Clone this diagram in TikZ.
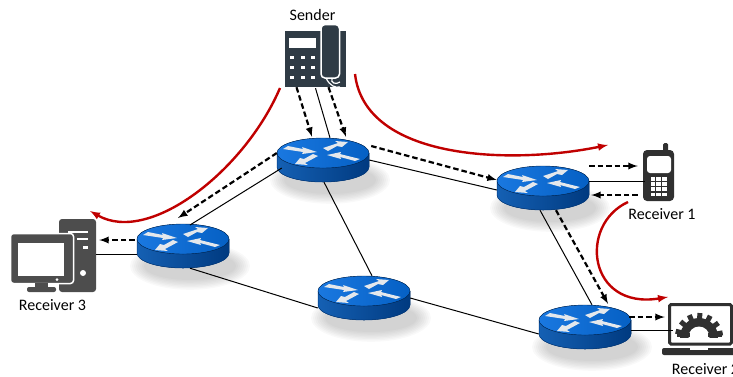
\documentclass[tikz,border=0pt]{standalone}
\usepackage{fontspec}
\setmainfont{Carlito}
\usetikzlibrary{calc}

\definecolor{phonedark}{HTML}{2F3B45}
\definecolor{pcgrey}{HTML}{4D4D4D}
\definecolor{mobiledark}{HTML}{303030}
\definecolor{redpath}{HTML}{C00000}
\definecolor{routerlight}{HTML}{1A78E0}
\definecolor{routermid}{HTML}{0560C4}
\definecolor{routerdark}{HTML}{003A80}
\definecolor{arrowwhite}{HTML}{E4E8EC}

\tikzset{
  >=latex,
  routerbody/.style={minimum width=92pt, minimum height=44pt, inner sep=0pt},
  iconbox/.style={inner sep=0pt},
  caption/.style={inner sep=0pt, font=\fontsize{16}{18}\selectfont},
  link/.style={draw=black, line width=1pt},
  flow/.style={draw=black, line width=2.2pt, dash pattern=on 5.5pt off 3pt, ->},
  redpath/.style={draw=redpath, line width=2.4pt, ->},
  router/.pic={
    % soft shadow
    \foreach \g in {0,2,...,14}
      \fill[black, opacity=0.025] (7,20) ellipse [x radius={46pt+\g*1pt}, y radius={14pt+\g*0.7pt}];
    % side, then top
    \fill[left color=routerlight!80!black, right color=routerdark]
      (-46,-7) -- (-46,7) arc [start angle=180, end angle=360, x radius=46pt, y radius=15pt] -- (46,-7) -- cycle;
    \draw[routerdark, line width=0.5pt]
      (-46,-7) -- (-46,7) arc [start angle=180, end angle=360, x radius=46pt, y radius=15pt] -- (46,-7);
    \fill[left color=routerlight, right color=routermid] (0,-7) ellipse [x radius=46pt, y radius=15pt];
    \draw[routerdark!70!black, line width=0.4pt] (0,-7) ellipse [x radius=46pt, y radius=15pt];
    \fill[arrowwhite] (-40,-11) -- (-35,-14) -- (-20,-11) -- (-21,-13) -- (-6,-8) -- (-21,-6) -- (-20,-8) -- cycle;
    \fill[arrowwhite] (0,-12) -- (5,-9) -- (14,-14) -- (19,-13) -- (25,-18) -- (12,-19) -- (15,-17) -- cycle;
    \fill[arrowwhite] (-5,-4) -- (-10,-6) -- (-19,-1) -- (-23,-2) -- (-28,4) -- (-15,5) -- (-18,3) -- cycle;
    \fill[arrowwhite] (37,-1) -- (32,1) -- (17,-3) -- (18,-1) -- (4,-5) -- (18,-8) -- (17,-6) -- cycle;
  }
}

\begin{document}
\begin{tikzpicture}[x=1pt, y=-1pt]
    \useasboundingbox (0,0) rectangle (733,376);

    % routers
    \foreach \name/\x/\y in {rone/323/160, rtwo/543/188, rthree/183/246, rfour/364/298, rfive/585/327}
    {
      \node[routerbody] (\name) at (\x,\y) {};
      \pic at (\name) {router};
    }

    % end devices
    \node[iconbox, minimum width=61pt, minimum height=62pt] (sender) at (315.5,56) {};
    \node[iconbox, minimum width=31pt, minimum height=58pt] (mobile) at (658.5,172) {};
    \node[iconbox, minimum width=85pt, minimum height=73pt] (desktop) at (53.5,255.5) {};
    \node[iconbox, minimum width=71pt, minimum height=52pt] (laptop) at (697.5,329) {};

    % desk phone
    \fill[phonedark] (285,31) rectangle (346,87);
    \fill[white] (289,38) rectangle (316,48);
    \foreach \x in {292,303,313}
      \foreach \y in {57,67,77}
        \fill[white] (\x-2,\y-1.5) rectangle (\x+2,\y+1.5);
    \fill[phonedark, draw=white, line width=1.5pt, rounded corners=4pt] (321,24.5) rectangle (339.5,78);
    \draw[white, line width=1.2pt] (326,78) .. controls (330,86) and (335,88) .. (340,87);
    \draw[white, line width=1.2pt] (332,78) .. controls (330,83) and (336,85) .. (340,82);

    % mobile phone
    \fill[mobiledark, rounded corners=1.5pt] (663,143) rectangle (668,152);
    \fill[mobiledark, rounded corners=4pt] (643,150) rectangle (674,201);
    \fill[white, rounded corners=3pt] (647,156) rectangle (671,173);
    \foreach \x in {0,1,2}
      \foreach \y in {0,1,2,3}
        \fill[white] (650.5+\x*5.8,177+\y*5.2) rectangle ++(4.4,3.8);

    % desktop computer
    \fill[pcgrey, rounded corners=3pt] (59,219) rectangle (96,292);
    \fill[white] (68,231) rectangle (88,233);
    \fill[white] (77,238) rectangle (88,240);
    \fill[white] (83,246) rectangle (88,249);
    \fill[white] (83,273) circle (3pt);
    \fill[pcgrey, draw=white, line width=1.5pt, rounded corners=3pt] (10.5,233.5) rectangle (73.5,283.5);
    \fill[white] (18,243) rectangle (64,276);
    \fill[pcgrey] (35,283) rectangle (48,288);
    \fill[pcgrey, rounded corners=2pt] (27,287) rectangle (56,292);
    \fill[white] (57,279.5) circle (1.5pt);

    % laptop
    \draw[mobiledark, line width=3pt, rounded corners=1.5pt, fill=white] (669.5,304.5) rectangle (731.5,344);
    \fill[mobiledark, rounded corners=2pt] (662,348) rectangle (735,355);
    \fill[white] (690,348) rectangle (708,350);
    \begin{scope}
      \clip (670,305) rectangle (730,337);
      \fill[mobiledark] (699,337) circle (19pt);
      \foreach \a in {10,36,...,170}
        \draw[mobiledark, line width=5pt] (699,337) -- ++(-\a:24);
      \fill[white] (699,337) circle (10.5pt);
    \end{scope}
    \fill[mobiledark] (677,333) rectangle (690,337);
    \fill[mobiledark] (708,333) rectangle (722,337);

    % labels
    \node[caption] (sendertext) at (312.5,15) {Sender};
    \node[caption] (mobiletext) at (662,214) {Receiver 1};
    \node[caption] (desktoptext) at (52.5,305) {Receiver 3};
    \node[caption] (laptoptext) at (705.5,369) {Receiver 2};

    % physical links
    \draw[link] ([shift={(0,1)}]sender.south) -- ([shift={(7,0)}]rone.north);
    \draw[link] (rone.east) -- ([shift={(0,2)}]rtwo.west);
    \draw[link] ([shift={(5,8)}]rone.west) -- ([shift={(7,-21)}]rthree.center);
    \draw[link] ([shift={(1,0)}]rone.south) -- ([shift={(8,0)}]rfour.north);
    \draw[link] ([shift={(7,0)}]rthree.south) -- ([shift={(0,10)}]rfour.west);
    \draw[link] ([shift={(0,0)}]rfour.east) -- ([shift={(0,7)}]rfive.west);
    \draw[link] ([shift={(-3,0)}]rtwo.south) -- ([shift={(7,0)}]rfive.north);
    \draw[link] ([shift={(0,-7)}]rtwo.east) -- ([shift={(2,9)}]mobile.west);
    \draw[link] ([shift={(0,3)}]rfive.east) -- ([shift={(11,1)}]laptop.west);
    \draw[link] ([shift={(0,8)}]rthree.west) -- ([shift={(0,-1.5)}]desktop.east);

    % traffic flows
    \draw[flow] ([shift={(-19,0)}]sender.south) -- ([shift={(-11,-1)}]rone.north);
    \draw[flow] ([shift={(13,0)}]sender.south) -- ([shift={(23,-1)}]rone.north);
    \draw[flow] ([shift={(2,-14)}]rone.east) -- ([shift={(0,-8)}]rtwo.west);
    \draw[flow] ([shift={(0,-7)}]rone.west) -- ([shift={(-5,-28)}]rthree.center);
    \draw[flow] ([shift={(-2,-6)}]rthree.west) -- ([shift={(3,-15.5)}]desktop.east);
    \draw[flow] ([shift={(13,0)}]rtwo.south) -- ([shift={(23,-1)}]rfive.north);
    \draw[flow] ([shift={(0,-22)}]rtwo.east) -- ([shift={(-5,-6)}]mobile.west);
    \draw[flow] ([shift={(-5,23)}]mobile.west) -- ([shift={(2,7)}]rtwo.east);
    \draw[flow] ([shift={(-2,-10)}]rfive.east) -- ([shift={(3,-12)}]laptop.west);

    % delivery paths
    \coordinate (leftstart) at (280,88);
    \coordinate (leftend) at (90,211);
    \coordinate (rightstart) at (355,74);
    \coordinate (rightend) at (608,145);
    \coordinate (downstart) at (628,202);
    \coordinate (downend) at (668,297);
    \draw[redpath] (leftstart) .. controls (245,170) and (150,245) .. (leftend);
    \draw[redpath] (rightstart) .. controls (365,160) and (510,165) .. (rightend);
    \draw[redpath] (downstart) .. controls (578,225) and (588,310) .. (downend);
\end{tikzpicture}
\end{document}
